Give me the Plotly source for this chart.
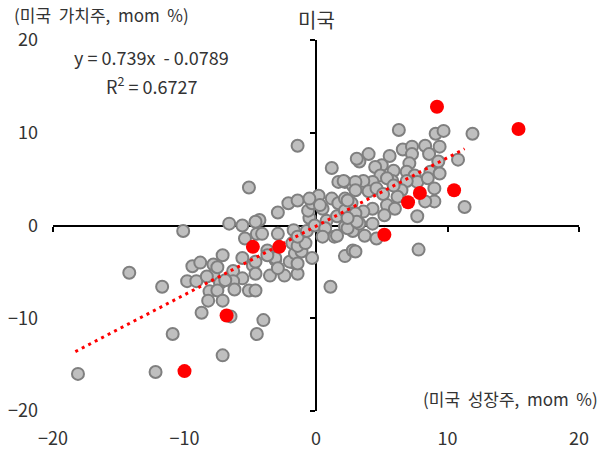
import plotly.graph_objects as go

# Monthly returns (mom %), US growth stocks (x) vs US value stocks (y)
growth_mom = [
    -18.1, -14.2, -11.7, -10.9, -12.2, -10.1, -9.8, -9.1, -9.4, -8.8,
    -7.8, -7.8, -6.3, -5.6, -4.8, -3.5, -3.1, -2.4, -1.7, -1.4,
    -7.3, -6.3, -6.2, -5.1, -8.1, -7.5, -8.2, -7.1, -8.7, -6.5,
    -4.0, -4.5, -7.1, -7.1, -5.6, -7.5, -8.3, -6.9, -4.6,
    -1.4, -5.1, -2.1, -1.4, -2.9, -4.3, -6.6, -5.6, -5.4, -4.5,
    -2.9, -1.7, -3.7, -3.1, -2.0, -4.6, -4.1, -3.7, -2.9, -4.6,
    -4.6, -1.6, -1.1, -0.3, -1.4, -1.8, -1.4, -0.8, -1.4, -0.7,
    -0.5, -0.1, 0.8, 1.6, 2.2, 1.4, 2.8, 0.7, 0.5, -0.6,
    -0.3, 0.2, 1.2, 0.5, 1.7, 2.2, 2.7, 2.2, 2.8, -0.5,
    0.3, 1.7, 2.2, 2.8, 2.2, 2.8, 1.6, 2.4, 3.3, 4.3,
    3.7, 4.6, 3.0, 7.8, 1.1, 1.2, 6.3, 9.1, 9.7, 11.9,
    4.0, 3.3, 3.1, 5.6, 6.6, 7.3, 8.3, 8.6, 9.4, 7.3,
    10.8, 9.3, 7.1, 5.0, 4.5, 5.9, 4.9, 6.9, 7.5, 8.7,
    9.4, 7.7, 8.5, 5.8, 5.4, 4.3, 3.6, 3.0, 2.1, 6.9,
    6.5, 9.0, 9.0, 8.3, 11.3, 7.7, 6.2, 5.4, 6.0, 5.2,
    4.3, 3.6, 3.0, 2.4, 3.0, 4.0, 4.6, 5.1, 5.9, 3.1,
    2.4,
]
value_mom = [
    -16.0, -5.1, -6.6, -11.7, -15.8, -0.6, -6.0, -6.0, -4.4, -4.0,
    -4.2, -5.4, -4.9, -5.7, -4.3, -5.4, -3.7, -5.4, -4.0, -5.2,
    -6.2, -6.0, -6.9, -7.0, -7.1, -7.0, -8.1, -8.1, -9.4, -9.8,
    -10.2, -11.7, -14.0, -3.2, -3.5, -4.5, -5.5, -5.9, -7.0,
    8.6, 4.1, 2.4, 2.7, 1.4, 0.6, 0.2, 0.0, -1.4, -0.9,
    -0.9, -0.5, -2.7, -3.5, -3.9, 0.4, -0.9, -3.2, -4.6, -3.9,
    -5.2, -3.0, -2.8, -3.5, -4.1, -1.9, -2.2, -1.9, -1.2, -0.6,
    0.8, 0.0, 0.5, 1.0, -0.1, -1.2, -0.6, -0.3, -1.2, 1.6,
    2.4, 3.2, 2.9, 1.8, 2.4, 2.9, 2.4, 1.6, 1.3, 2.9,
    2.2, 4.7, 4.7, 4.3, -3.3, -2.7, -1.1, -0.3, 0.2, 0.2,
    -1.1, -1.4, -2.8, -2.6, -6.6, 6.2, 10.3, 9.9, 10.2, 9.9,
    7.7, 6.9, 7.2, 7.5, 8.2, 8.5, 8.6, 7.7, 8.5, 7.7,
    7.1, 6.9, 6.7, 6.5, 6.3, 5.9, 5.4, 5.8, 5.4, 5.8,
    5.6, 4.7, 5.1, 4.8, 5.1, 4.7, 4.8, 4.7, 4.8, 4.8,
    3.8, 4.0, 2.6, 2.6, 2.0, 1.0, 3.1, 2.2, 1.8, 1.1,
    1.8, 1.5, 1.3, 2.7, 3.8, 3.7, 4.0, 3.4, 4.3, 0.4,
    0.8,
]

# Highlighted months
recent_growth = [9.2, 15.4, 7.9, 7.0, 10.5, 5.2, -4.8, -2.8, -6.8, -10.0]
recent_value = [12.8, 10.4, 3.5, 2.5, 3.8, -1.0, -2.3, -2.3, -9.7, -15.7]

# Linear fit shown on the chart
slope = 0.739
intercept = -0.0789
r_squared = 0.6727
fit_x_range = [-18.3, 11.3]

tick_vals = [-20, -10, 0, 10, 20]
axis_range = [-20, 20]

text_color = "#333333"
font_family = "Noto Sans CJK KR, Noto Sans, sans-serif"

fit_y = [slope * x + intercept for x in fit_x_range]

fig = go.Figure()

fig.add_trace(go.Scatter(
    x=growth_mom, y=value_mom, mode="markers",
    marker=dict(size=12, color="#BFBFBF", line=dict(color="#7F7F7F", width=2)),
    hoverinfo="x+y", showlegend=False,
))
fig.add_trace(go.Scatter(
    x=fit_x_range, y=fit_y, mode="lines",
    line=dict(color="#FF0000", width=3, dash="3px,4.3px"),
    hoverinfo="skip", showlegend=False,
))
fig.add_trace(go.Scatter(
    x=recent_growth, y=recent_value, mode="markers",
    marker=dict(size=14, color="#FF0000"),
    hoverinfo="x+y", showlegend=False,
))
# empty trace that carries the crossing axes through the origin
fig.add_trace(go.Scatter(
    x=[], y=[], xaxis="x2", yaxis="y2", showlegend=False, hoverinfo="skip",
))

tick_font = dict(family=font_family, size=18, color=text_color)

fig.update_layout(
    width=604, height=455,
    margin=dict(l=53, r=25, t=40, b=44, autoexpand=False),
    paper_bgcolor="white", plot_bgcolor="white",
    font=dict(family=font_family, color=text_color),
    xaxis=dict(
        range=axis_range, tickvals=tick_vals, showgrid=False, zeroline=False,
        showline=False, ticks="", tickfont=tick_font, ticklabelstandoff=15,
        automargin=False, fixedrange=True,
    ),
    yaxis=dict(
        range=axis_range, tickvals=tick_vals, showgrid=False, zeroline=False,
        showline=False, ticks="", tickfont=tick_font, ticklabelstandoff=14,
        automargin=False, fixedrange=True,
    ),
    xaxis2=dict(
        overlaying="x", anchor="free", position=0.5, side="bottom",
        range=axis_range, tickvals=tick_vals, showticklabels=False,
        showgrid=False, zeroline=False, showline=True, linecolor="black",
        linewidth=2, ticks="outside", ticklen=5, tickwidth=2, tickcolor="black",
        layer="below traces", automargin=False, fixedrange=True,
    ),
    yaxis2=dict(
        overlaying="y", anchor="free", position=0.5, side="left",
        range=axis_range, tickvals=tick_vals, showticklabels=False,
        showgrid=False, zeroline=False, showline=True, linecolor="black",
        linewidth=2, ticks="outside", ticklen=5, tickwidth=2, tickcolor="black",
        layer="below traces", automargin=False, fixedrange=True,
    ),
    annotations=[
        dict(text="미국", xref="paper", yref="paper", x=0.5, y=1.054,
             xanchor="center", yanchor="middle", showarrow=False,
             font=dict(size=20, color=text_color)),
        dict(text="(미국  가치주,  mom  %)", xref="paper", yref="paper",
             x=-0.078, y=1.07, xanchor="left", yanchor="middle",
             showarrow=False, font=dict(size=17, color=text_color)),
        dict(text="(미국  성장주,  mom  %)", xref="paper", yref="paper",
             x=1.04, y=0.035, xanchor="right", yanchor="middle",
             showarrow=False, font=dict(size=17, color=text_color)),
        dict(text=f"y = {slope}x  - {abs(intercept)}", xref="paper", yref="paper",
             x=0.188, y=0.954, xanchor="center", yanchor="middle",
             showarrow=False, font=dict(size=18, color=text_color)),
        dict(text=f"R<sup>2</sup> = {r_squared}", xref="paper", yref="paper",
             x=0.188, y=0.879, xanchor="center", yanchor="middle",
             showarrow=False, font=dict(size=18, color=text_color)),
    ],
)

fig.write_html("out.html")
